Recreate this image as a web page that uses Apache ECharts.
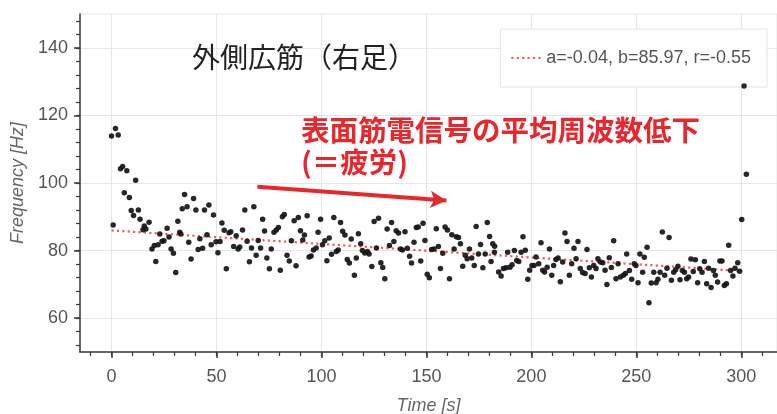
<!DOCTYPE html>
<html><head><meta charset="utf-8">
<script src="https://cdn.jsdelivr.net/npm/echarts@6/dist/echarts.min.js"></script>
<style>html,body{margin:0;padding:0;background:#fff}#c{width:777px;height:414px}</style>
</head><body><div id="c"></div>
<script>
const timeS = [0.0,0.8,1.9,3.2,4.3,5.3,6.1,7.3,8.5,9.4,10.5,11.5,12.8,13.6,15.0,15.6,16.4,17.9,19.3,20.4,21.1,22.2,23.0,24.1,25.0,26.5,27.4,28.4,29.5,30.6,31.6,32.5,33.0,33.7,34.8,36.0,36.8,37.9,39.1,40.2,41.3,42.1,43.4,44.3,45.5,46.4,47.5,48.6,49.8,50.7,51.7,52.6,53.7,54.7,56.0,56.8,58.2,59.4,60.3,61.1,62.4,63.5,64.6,65.7,66.7,67.8,68.9,69.9,71.0,72.0,72.9,74.0,75.2,76.1,77.4,78.5,79.5,80.4,81.4,82.3,83.6,84.7,85.7,87.0,87.9,89.0,90.0,91.1,91.9,93.2,94.1,95.1,96.2,97.5,98.4,99.6,100.5,101.6,102.6,103.7,104.8,105.9,107.1,108.0,109.1,110.1,111.2,112.3,113.3,114.2,115.7,116.6,117.6,118.7,119.5,120.6,121.9,122.7,124.0,125.1,126.2,127.2,128.3,129.2,130.2,131.3,132.4,133.4,134.5,135.6,136.7,137.7,138.6,139.8,140.9,142.0,142.9,144.1,145.2,146.1,147.3,148.4,149.3,150.4,151.4,152.5,153.6,154.7,155.7,156.7,157.8,158.9,160.0,161.0,162.1,163.2,164.2,165.3,166.2,167.3,168.5,169.4,170.5,171.6,172.8,173.7,174.8,175.8,176.9,178.0,179.0,180.1,180.8,181.6,182.4,182.5,184.4,185.6,186.7,187.9,188.7,189.8,190.8,191.9,193.0,194.0,195.1,196.0,197.1,198.3,199.2,200.3,201.3,202.2,203.5,204.6,205.4,206.3,207.5,208.6,209.7,210.6,211.7,212.7,213.8,214.9,216.0,217.0,218.1,219.2,220.3,221.3,222.2,223.3,224.4,225.6,226.5,227.6,228.6,229.7,230.8,231.7,232.9,234.0,235.1,236.0,237.1,238.1,239.2,240.3,241.3,242.4,243.8,244.8,245.4,246.7,247.8,249.0,249.8,250.8,251.7,253.0,253.8,255.1,256.0,257.1,258.3,259.4,260.3,261.3,262.4,263.5,264.6,265.6,266.7,267.8,268.7,269.8,270.8,271.9,272.9,274.0,274.9,276.0,277.1,278.1,279.2,280.2,281.3,282.4,283.5,284.4,285.6,286.7,287.6,288.7,289.8,290.8,291.9,292.9,294.0,294.9,296.0,297.0,298.3,299.2,300.2,301.3,302.4];
const freqHz = [113.9,87.6,116.1,114.2,104.2,104.9,97.1,103.6,95.7,91.9,90.4,100.8,92.0,89.3,86.2,87.3,86.4,88.4,80.5,81.5,76.8,81.7,84.9,82.8,82.9,86.6,84.0,80.5,79.2,73.5,88.7,85.4,84.9,92.4,96.6,93.0,82.5,77.5,95.4,92.0,80.3,83.5,80.7,92.0,84.7,93.5,81.7,90.5,82.6,79.4,82.7,88.2,86.0,74.6,85.3,85.6,81.2,84.4,80.5,81.1,86.1,92.0,82.8,76.7,80.8,93.0,78.6,83.0,80.8,89.3,85.8,77.8,74.6,80.5,85.4,86.1,86.8,74.2,90.0,90.7,78.6,76.9,82.9,88.8,75.5,89.8,85.9,83.1,84.6,90.3,78.1,78.4,80.2,80.8,85.4,89.3,81.7,82.9,77.0,83.7,78.9,89.8,79.7,80.2,88.3,85.7,84.6,77.4,76.3,83.4,72.7,77.8,85.0,82.0,80.0,79.3,79.7,79.0,75.3,88.6,80.8,89.6,76.4,75.0,71.7,86.4,81.5,88.3,82.7,85.9,85.2,80.5,80.2,85.6,80.7,78.3,76.3,82.5,86.8,87.0,76.9,88.1,83.0,73.0,72.0,80.3,80.5,86.5,81.2,74.7,79.2,87.0,86.1,71.7,84.7,80.5,84.1,83.9,82.0,75.4,78.6,77.6,80.5,77.8,75.6,87.1,79.0,81.8,74.9,79.0,88.3,84.2,76.8,82.0,79.5,81.3,73.7,72.5,74.7,74.9,79.5,75.1,75.8,80.0,77.1,76.8,79.5,84.1,80.1,71.5,74.2,75.6,75.6,78.1,76.1,82.3,74.2,73.7,75.1,80.5,72.7,75.6,77.4,77.8,70.8,76.6,85.2,82.7,72.7,76.1,80.7,77.6,82.7,74.7,73.5,73.2,80.3,74.9,72.2,75.6,74.7,77.6,76.6,76.4,74.2,70.0,77.9,75.0,82.9,71.7,76.1,72.2,72.7,73.2,79.0,74.1,71.5,76.1,75.6,70.5,79.0,73.6,78.0,81.0,64.6,70.4,73.6,70.5,71.5,73.6,85.5,72.7,74.8,83.9,71.2,73.6,74.3,75.4,71.4,74.1,73.6,71.7,72.2,77.5,73.8,77.3,70.5,74.6,73.6,76.8,70.2,74.8,69.1,74.1,72.7,70.7,76.9,76.9,69.7,70.2,81.6,74.1,72.5,74.8,76.4,73.9,89.2,128.7,102.6];
const fitX = [0, 300];
const fitY = [85.97, 73.97];
const arrowFrom = [69.5, 98.9];
const arrowTo = [159.5, 94.8];
const xMajor = [0, 50, 100, 150, 200, 250, 300];
const xMinor = [-10,0,10,20,30,40,50,60,70,80,90,100,110,120,130,140,150,160,170,180,190,200,210,220,230,240,250,260,270,280,290,300,310];
const yMajor = [60, 80, 100, 120, 140];
const yMinor = [52,56,60,64,68,72,76,80,84,88,92,96,100,104,108,112,116,120,124,128,132,136,140,144,148];
const legendText = 'a=-0.04, b=85.97, r=-0.55';
const titleText = '外側広筋（右足）';
const noteText = '表面筋電信号の平均周波数低下\n(＝疲労)';

const latin = '"Liberation Sans", Arial, Helvetica, sans-serif';
const cjk = '"Noto Sans CJK JP", "Noto Sans", sans-serif';
const axisColor = '#3a3a3a';
const gridColor = '#e4e6ea';

const chart = echarts.init(document.getElementById('c'), null, {renderer: 'canvas'});
chart.setOption({
  animation: false,
  backgroundColor: '#fff',
  textStyle: {fontFamily: latin},
  grid: {left: 80, right: 0, top: 14, bottom: 62, show: true, borderColor: gridColor, borderWidth: 1,
         containLabel: false, outerBoundsMode: 'none'},
  title: [
    {text: titleText, left: 192, top: 43, padding: 0,
     textStyle: {fontSize: 28, fontWeight: 'normal', color: '#222', fontFamily: cjk}},
    {text: noteText, left: 301, top: 114, padding: 0,
     textStyle: {fontSize: 28.5, lineHeight: 32, fontWeight: 'bold', color: '#e8262b', fontFamily: cjk}}
  ],
  legend: {
    data: [legendText], right: 10, top: 29, padding: [20, 16, 20, 10],
    itemWidth: 30, itemHeight: 14, backgroundColor: '#fff',
    borderColor: '#e4e4e4', borderWidth: 1, borderRadius: 0,
    itemStyle: {opacity: 0},
    lineStyle: {opacity: 1},
    textStyle: {fontSize: 18, color: '#555', fontFamily: latin}
  },
  xAxis: [
    {type: 'value', min: -15, max: 317, position: 'bottom',
     name: 'Time [s]', nameLocation: 'middle', nameGap: 45,
     nameTextStyle: {fontStyle: 'italic', fontSize: 18, color: '#666', fontFamily: latin},
     axisLine: {show: true, onZero: false, lineStyle: {color: axisColor, width: 1.5}},
     axisTick: {show: true, customValues: xMajor, length: 6, lineStyle: {color: axisColor, width: 1.5}},
     axisLabel: {customValues: xMajor, margin: 16, fontSize: 18, color: '#555', fontFamily: latin},
     splitLine: {show: true, lineStyle: {color: gridColor, width: 1}}},
    {type: 'value', min: -15, max: 317, position: 'bottom', gridIndex: 0,
     axisLine: {show: false, onZero: false},
     axisTick: {show: true, customValues: xMinor, length: 4, lineStyle: {color: axisColor, width: 1.2}},
     axisLabel: {show: false}, splitLine: {show: false}}
  ],
  yAxis: [
    {type: 'value', min: 50, max: 150, position: 'left',
     name: 'Frequency [Hz]', nameLocation: 'middle', nameGap: 50,
     nameTextStyle: {fontStyle: 'italic', fontSize: 18, color: '#666', fontFamily: latin},
     axisLine: {show: true, onZero: false, lineStyle: {color: axisColor, width: 1.5}},
     axisTick: {show: true, customValues: yMajor, length: 6, lineStyle: {color: axisColor, width: 1.5}},
     axisLabel: {customValues: yMajor, margin: 12, fontSize: 18, color: '#555', fontFamily: latin},
     splitLine: {show: true, lineStyle: {color: gridColor, width: 1}}},
    {type: 'value', min: 50, max: 150, position: 'left', gridIndex: 0,
     axisLine: {show: false, onZero: false},
     axisTick: {show: true, customValues: yMinor, length: 4, lineStyle: {color: axisColor, width: 1.2}},
     axisLabel: {show: false}, splitLine: {show: false}}
  ],
  series: [
    {type: 'line', name: legendText, xAxisIndex: 0, yAxisIndex: 0,
     data: fitX.map((x, i) => [x, fitY[i]]),
     symbol: 'none', silent: true, z: 3,
     lineStyle: {color: '#f05a5a', width: 2.2, type: [2.2, 3.2]},
     itemStyle: {color: '#f05a5a'},
     emphasis: {disabled: true}},
    {type: 'scatter', name: 'data', xAxisIndex: 0, yAxisIndex: 0,
     data: timeS.map((t, i) => [t, freqHz[i]]),
     symbol: 'circle', symbolSize: 5.5, silent: true, z: 4,
     itemStyle: {color: '#151515', opacity: 0.92},
     emphasis: {disabled: true},
     markLine: {
       silent: true, symbol: ['none', 'arrow'], symbolSize: [13, 16],
       label: {show: false}, emphasis: {disabled: true},
       lineStyle: {color: '#e8262b', width: 4, type: 'solid'},
       data: [[{coord: arrowFrom}, {coord: arrowTo}]]
     }}
  ]
});
</script>
</body></html>
